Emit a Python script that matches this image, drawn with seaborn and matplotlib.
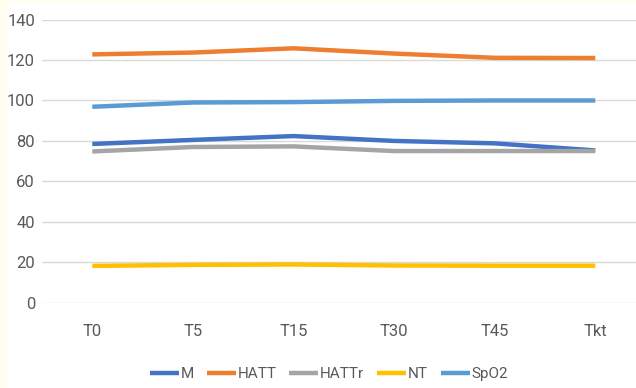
import matplotlib
matplotlib.use("Agg")
import matplotlib.pyplot as plt
from matplotlib.patches import Rectangle
import pandas as pd
import seaborn as sns

times = ["T0", "T5", "T15", "T30", "T45", "Tkt"]
series_names = ["M", "HATT", "HATTr", "NT", "SpO2"]
m_vals = [78.5, 80.5, 82.4, 80.0, 78.8, 75.3]
hatt_vals = [122.8, 123.7, 125.8, 123.2, 121.1, 121.0]
hattr_vals = [74.8, 77.0, 77.3, 75.0, 75.0, 75.0]
nt_vals = [18.2, 18.7, 18.9, 18.4, 18.3, 18.3]
spo2_vals = [96.9, 99.0, 99.2, 99.8, 100.0, 100.0]
yticks = [0, 20, 40, 60, 80, 100, 120, 140]

colors = ["#4472C4", "#ED7D31", "#A5A5A5", "#FFC000", "#5B9BD5"]

df = pd.DataFrame({
    "time": times * 5,
    "value": m_vals + hatt_vals + hattr_vals + nt_vals + spo2_vals,
    "series": sum([[s] * len(times) for s in series_names], []),
})

sns.set_theme(style="white")
plt.rcParams["font.family"] = ["Roboto", "DejaVu Sans"]

fig = plt.figure(figsize=(6.36, 3.88), dpi=100)
fig.patch.set_facecolor("#FFFEF1")
fig.patches.append(Rectangle((7 / 636, 0), 1, 1 - 3 / 388, transform=fig.transFigure,
                             facecolor="white", edgecolor="none", zorder=-1))

ax = fig.add_axes([42 / 636, 1 - 302.7 / 388, (636 - 42) / 636, (302.7 - 19.6) / 388])
ax.set_facecolor("none")

sns.lineplot(data=df, x="time", y="value", hue="series", hue_order=series_names,
             palette=colors, linewidth=3.2, sort=False, ax=ax,
             solid_capstyle="butt", zorder=3)

ax.set_xlim(-0.5, 5.405)
ax.set_ylim(0, 140)
ax.set_yticks(yticks)
ax.yaxis.grid(True, color="#D9D9D9", linewidth=1.0)
ax.xaxis.grid(False)
for s in ax.spines.values():
    s.set_visible(False)
ax.set_xlabel("")
ax.set_ylabel("")
ax.tick_params(axis="y", length=0, pad=5, labelsize=12, labelcolor="#595959")
ax.tick_params(axis="x", length=0, pad=15, labelsize=12, labelcolor="#595959")

handles, labels = ax.get_legend_handles_labels()
ax.legend_.remove()
fig.legend(handles, labels, loc="center", bbox_to_anchor=(329 / 636, 1 - 374 / 388),
           ncol=5, frameon=False, fontsize=11, handlelength=1.9, handletextpad=0.1,
           columnspacing=0.85, labelcolor="#595959")

fig.savefig("out.png", dpi=100)
